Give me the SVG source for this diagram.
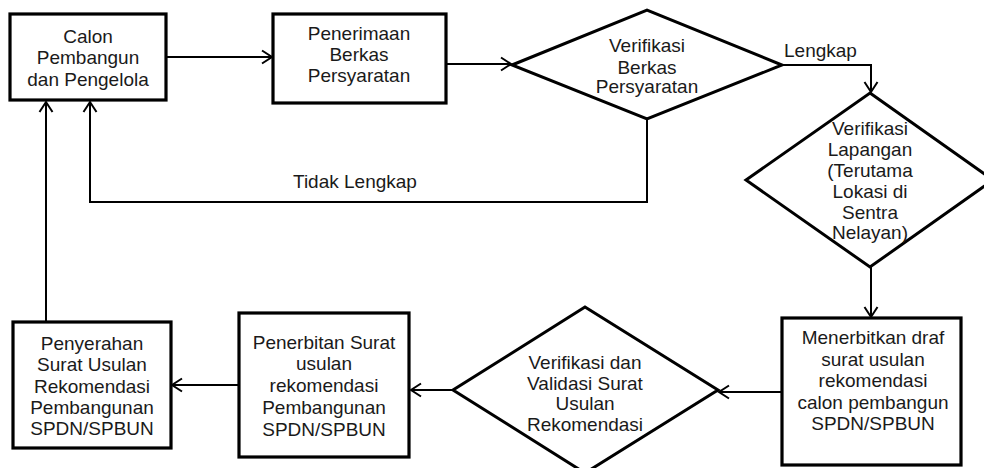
<svg xmlns="http://www.w3.org/2000/svg" width="984" height="468" viewBox="0 0 984 468">
<style>
.box{fill:#fff;stroke:#000;stroke-width:3.2}
.dia{fill:#fff;stroke:#000;stroke-width:3}
.con{fill:none;stroke:#000;stroke-width:2}
text{font-family:"Liberation Sans",Arial,sans-serif;font-size:19px;fill:#1a1a1a}
.c{text-anchor:middle}
</style>
<defs>
<marker id="arr" viewBox="-12 -8 14 16" refX="0" refY="0" markerWidth="14" markerHeight="16" orient="auto" markerUnits="userSpaceOnUse">
<path d="M-10,-6.5 L0,0 L-10,6.5" fill="none" stroke="#000" stroke-width="2"/>
</marker>
</defs>
<rect width="984" height="468" fill="#fff"/>
<g id="connectors">
<path class="con" d="M166,57 H272" marker-end="url(#arr)"/>
<path class="con" d="M446,64 H511" marker-end="url(#arr)"/>
<path class="con" d="M782,65 H871 V92" marker-end="url(#arr)"/>
<path class="con" d="M871,267 V317" marker-end="url(#arr)"/>
<path class="con" d="M782,392 H719" marker-end="url(#arr)"/>
<path class="con" d="M453,390 H411" marker-end="url(#arr)"/>
<path class="con" d="M239,385 H172" marker-end="url(#arr)"/>
<path class="con" d="M46,322 V102" marker-end="url(#arr)"/>
<path class="con" d="M647,119 V202 H90 V102" marker-end="url(#arr)"/>
<text x="784" y="57">Lengkap</text>
<text x="293" y="188">Tidak Lengkap</text>
</g>
<g id="calon">
<rect class="box" x="10" y="14" width="156" height="86"/>
<text class="c" x="88" y="43">Calon</text>
<text class="c" x="88" y="64">Pembangun</text>
<text class="c" x="88" y="86">dan Pengelola</text>
</g>
<g id="penerimaan">
<rect class="box" x="273" y="14" width="173" height="89"/>
<text class="c" x="359" y="40">Penerimaan</text>
<text class="c" x="359" y="61">Berkas</text>
<text class="c" x="359" y="82">Persyaratan</text>
</g>
<g id="verifikasi-berkas">
<polygon class="dia" points="512,65 647,10 782,65 647,119"/>
<text class="c" x="647" y="52">Verifikasi</text>
<text class="c" x="647" y="74">Berkas</text>
<text class="c" x="647" y="93">Persyaratan</text>
</g>
<g id="verifikasi-lapangan">
<polygon class="dia" points="870,93 993,180 870,267 746,180"/>
<text class="c" x="870" y="135">Verifikasi</text>
<text class="c" x="870" y="156">Lapangan</text>
<text class="c" x="870" y="177">(Terutama</text>
<text class="c" x="870" y="198">Lokasi di</text>
<text class="c" x="870" y="219">Sentra</text>
<text class="c" x="870" y="239">Nelayan)</text>
</g>
<g id="menerbitkan">
<rect class="box" x="782" y="318" width="179" height="147"/>
<text class="c" x="873" y="344">Menerbitkan draf</text>
<text class="c" x="873" y="366">surat usulan</text>
<text class="c" x="873" y="387">rekomendasi</text>
<text class="c" x="873" y="409">calon pembangun</text>
<text class="c" x="873" y="430">SPDN/SPBUN</text>
</g>
<g id="verifikasi-validasi">
<polygon class="dia" points="585,307 718,390 585,473 453,390"/>
<text class="c" x="585" y="369">Verifikasi dan</text>
<text class="c" x="585" y="390">Validasi Surat</text>
<text class="c" x="585" y="410">Usulan</text>
<text class="c" x="585" y="431">Rekomendasi</text>
</g>
<g id="penerbitan">
<rect class="box" x="239" y="313" width="170" height="144"/>
<text class="c" x="324" y="349">Penerbitan Surat</text>
<text class="c" x="324" y="370">usulan</text>
<text class="c" x="324" y="392">rekomendasi</text>
<text class="c" x="324" y="414">Pembangunan</text>
<text class="c" x="324" y="436">SPDN/SPBUN</text>
</g>
<g id="penyerahan">
<rect class="box" x="13" y="322" width="158" height="126"/>
<text class="c" x="92" y="350">Penyerahan</text>
<text class="c" x="92" y="371">Surat Usulan</text>
<text class="c" x="92" y="393">Rekomendasi</text>
<text class="c" x="92" y="414">Pembangunan</text>
<text class="c" x="92" y="435">SPDN/SPBUN</text>
</g>
</svg>
